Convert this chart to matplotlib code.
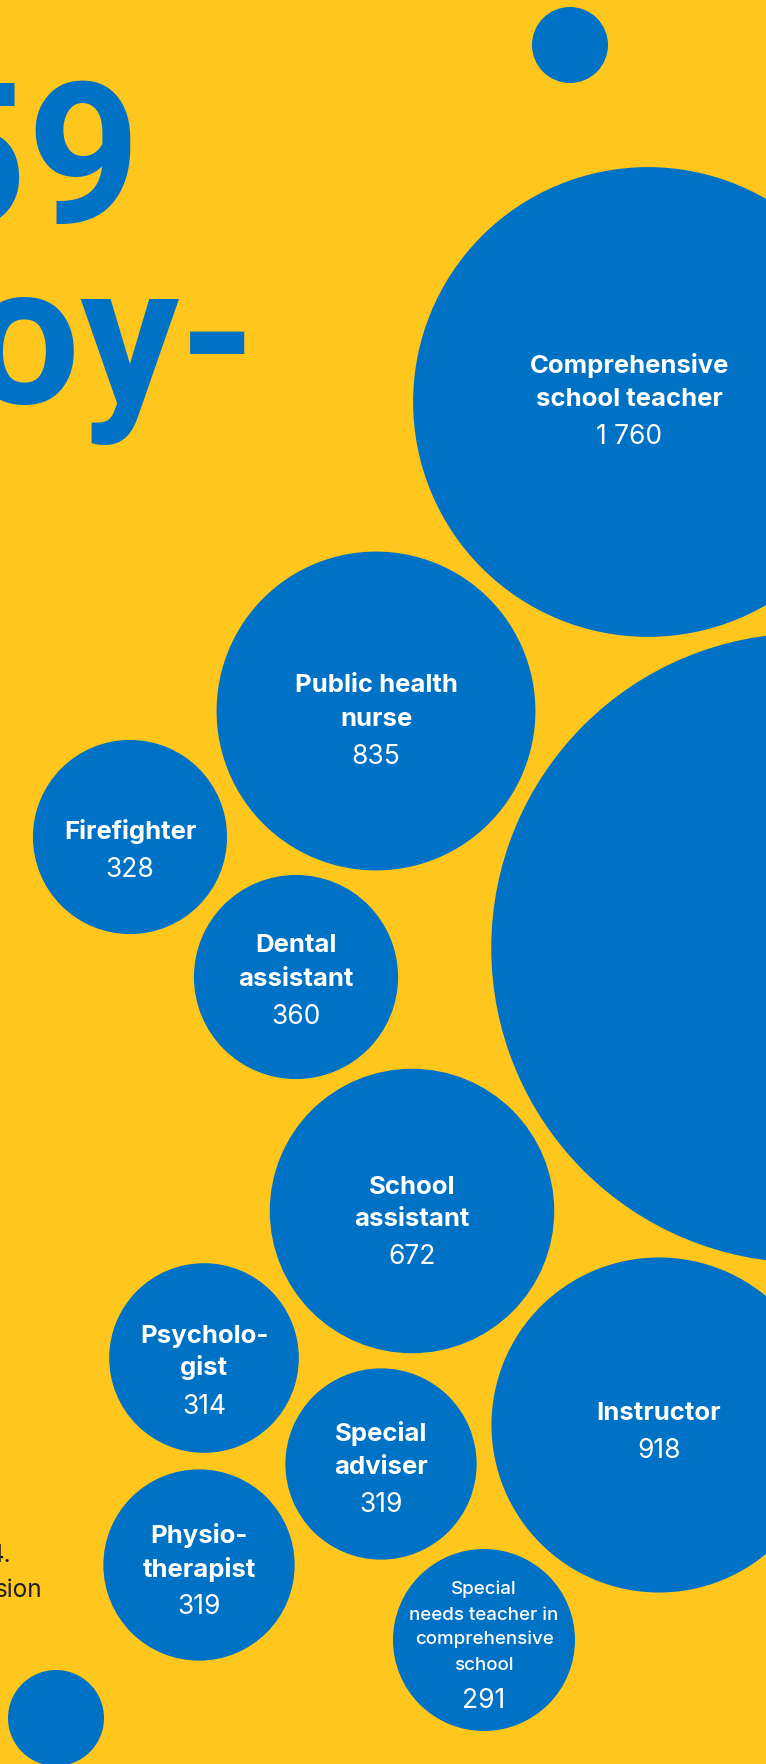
import numpy as np
import matplotlib
matplotlib.use("Agg")
import matplotlib.pyplot as plt
from matplotlib.patches import Circle

# vacancies per occupation (public sector, bubble area ~ count)
occupations = [
    "Comprehensive\nschool teacher",
    "",
    "Public health\nnurse",
    "Firefighter",
    "Dental\nassistant",
    "School\nassistant",
    "Psycholo-\ngist",
    "Special\nadviser",
    "Instructor",
    "Physio-\ntherapist",
    "Special\nneeds teacher in\ncomprehensive\nschool",
]
vacancies = [1760, 3110, 835, 328, 360, 672, 314, 319, 918, 319, 291]

headline = ["559", "employ-"]
footnote = ["4.", "sion"]

# bubble centres from the packing, in pixels
centers = [
    (648, 402), (806, 948), (376, 711), (130, 837), (296, 977),
    (412, 1211), (204, 1358), (381, 1464), (659, 1425), (199, 1565),
    (484, 1640),
]
# small vertical nudges for the labels
label_dy = [-7, 0, 3, 7, -3, 4, 6, -2, 0, 0, 0]
dots = [((570, 45), 38), ((56, 1718), 48)]

W, H = 766, 1764
YELLOW = "#FFC61E"
BLUE = "#0072C6"
FONT = "Inter"
HEAD_FONT = "Roboto"

def radius(v):
    return 5.78 * np.sqrt(v) - 7.6

def fmt(v):
    return f"{v:,}".replace(",", " ")

fig = plt.figure(figsize=(W / 100, H / 100), dpi=100)
fig.patch.set_facecolor(YELLOW)
ax = fig.add_axes([0, 0, 1, 1])
ax.set_xlim(0, W)
ax.set_ylim(H, 0)
ax.set_aspect("equal")
ax.axis("off")

# headline, runs off the left edge
ax.text(141, 223, headline[0], ha="right", va="baseline", fontsize=142,
        fontweight="bold", color=BLUE, family=HEAD_FONT)
ax.text(256, 403, headline[1], ha="right", va="baseline", fontsize=142,
        fontweight="bold", color=BLUE, family=HEAD_FONT)

ax.text(11, 1562, footnote[0], ha="right", va="baseline", fontsize=17.5,
        color="#1E1E1E", family=FONT)
ax.text(42, 1597, footnote[1], ha="right", va="baseline", fontsize=17.5,
        color="#1E1E1E", family=FONT)

for (x, y), r in dots:
    ax.add_patch(Circle((x, y), r, color=BLUE, lw=0))

renderer = fig.canvas.get_renderer()

for name, v, (cx, cy), dy in zip(occupations, vacancies, centers, label_dy):
    ax.add_patch(Circle((cx, cy), radius(v), color=BLUE, lw=0))
    if not name:
        continue
    lines = name.split("\n")
    small = len(lines) > 3
    if small:
        name_size, gap, cap, num_gap = 13.5, 25, 13, 39
        weight = "medium"
    else:
        name_size, gap, cap, num_gap = 18.5, 33, 18, 38
        weight = "bold"
    block = cap + gap * (len(lines) - 1) + num_gap
    top = cy + 5 + dy - block / 2 + cap
    # keep the label inside the canvas
    widest = max(lines, key=len)
    t = ax.text(0, 0, widest, fontsize=name_size, fontweight=weight, family=FONT)
    bw = t.get_window_extent(renderer).width
    t.remove()
    tx = min(cx, W - 43 - bw / 2)
    for i, ln in enumerate(lines):
        ax.text(tx, top + i * gap, ln, ha="center", va="baseline",
                fontsize=name_size, fontweight=weight, color="white", family=FONT)
    ax.text(tx, top + (len(lines) - 1) * gap + num_gap, fmt(v), ha="center",
            va="baseline", fontsize=19, fontweight="normal", color="white",
            family=FONT)

fig.savefig("out.png", dpi=100, facecolor=YELLOW)
